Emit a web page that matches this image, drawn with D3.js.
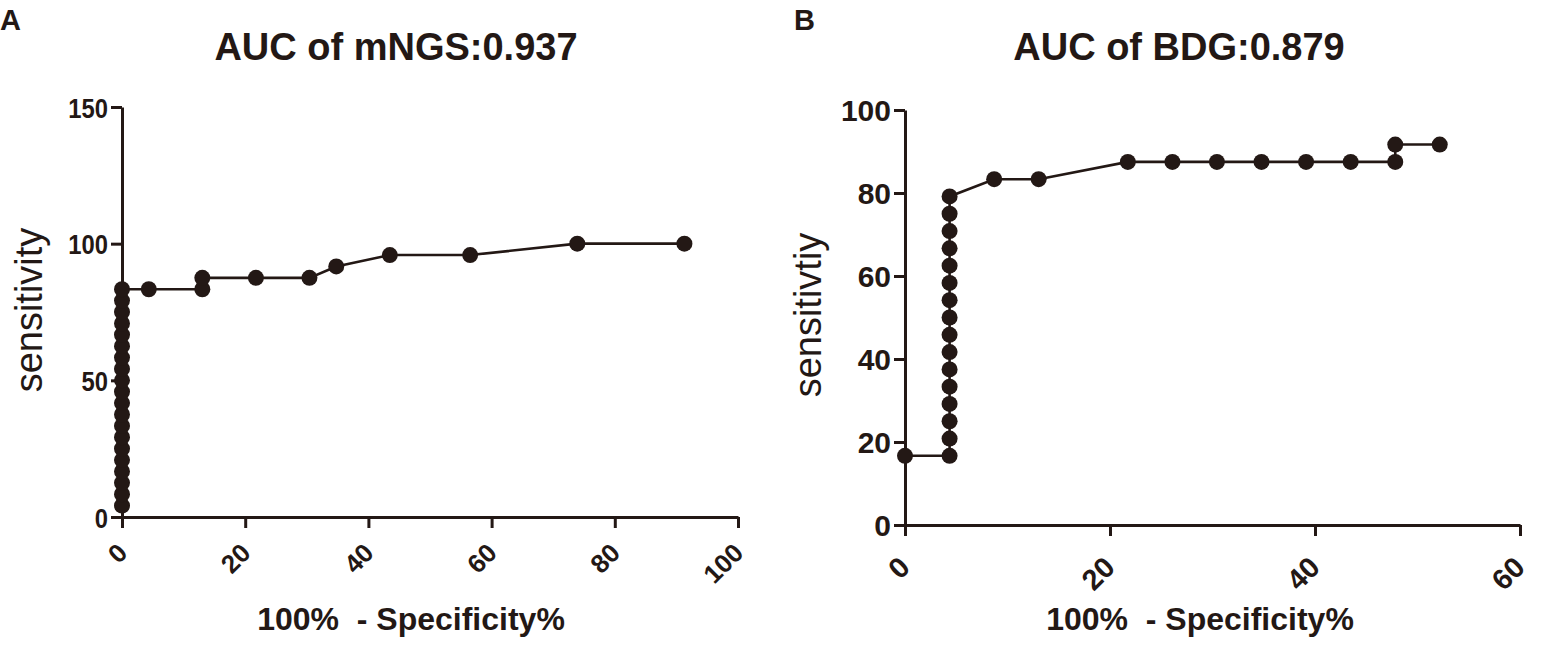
<!DOCTYPE html>
<html>
<head>
<meta charset="utf-8">
<script src="https://cdn.jsdelivr.net/npm/d3@7"></script>
<style>
  body { margin: 0; background: #fff; }
  text { font-family: "Liberation Sans", Arial, sans-serif; fill: #231815; }
</style>
</head>
<body>
<div id="chart"></div>
<script>
// ROC points, panel A (mNGS)
const mngsFpr = [0, 0, 0, 0, 0, 0, 0, 0, 0, 0, 0, 0, 0, 0, 0, 0, 0, 0, 0, 0,
  4.35, 13.04, 13.04, 21.74, 30.43, 34.78, 43.48, 56.52, 73.91, 91.30];
const mngsSens = [4.17, 8.33, 12.5, 16.67, 20.83, 25, 29.17, 33.33, 37.5, 41.67,
  45.83, 50, 54.17, 58.33, 62.5, 66.67, 70.83, 75, 79.17, 83.33,
  83.33, 83.33, 87.5, 87.5, 87.5, 91.67, 95.83, 95.83, 100, 100];

// ROC points, panel B (BDG)
const bdgFpr = [0, 4.35, 4.35, 4.35, 4.35, 4.35, 4.35, 4.35, 4.35, 4.35, 4.35,
  4.35, 4.35, 4.35, 4.35, 4.35, 4.35, 8.70, 13.04, 21.74, 26.09, 30.43, 34.78,
  39.13, 43.48, 47.83, 47.83, 52.17];
const bdgSens = [16.67, 16.67, 20.83, 25, 29.17, 33.33, 37.5, 41.67, 45.83, 50,
  54.17, 58.33, 62.5, 66.67, 70.83, 75, 79.17, 83.33, 83.33, 87.5, 87.5, 87.5,
  87.5, 87.5, 87.5, 87.5, 91.67, 91.67];

const mngsXTicks = [0, 20, 40, 60, 80, 100];
const mngsYTicks = [0, 50, 100, 150];
const bdgXTicks = [0, 20, 40, 60];
const bdgYTicks = [0, 20, 40, 60, 80, 100];

const ink = '#231815';

var svg = d3.select('#chart')
  .append('svg')
  .attr('width', 1543)
  .attr('height', 650)
  .style('background-color', '#FFFFFF');

function drawPanel(opts) {
  var xScale = d3.scaleLinear().domain(opts.xDomain).range(opts.xRange);
  var yScale = d3.scaleLinear().domain(opts.yDomain).range(opts.yRange);
  var x0 = opts.xRange[0], y0 = opts.yRange[0];

  var g = svg.append('g');

  // panel letter
  g.append('text')
    .attr('x', opts.letterX).attr('y', 30)
    .style('font-size', '29px').style('font-weight', 'bold')
    .text(opts.letter);

  // title
  g.append('text')
    .attr('x', opts.titleX).attr('y', 60)
    .attr('text-anchor', 'middle')
    .style('font-size', '38px').style('font-weight', 'bold')
    .text(opts.title);

  var yAxis = d3.axisLeft(yScale).tickValues(opts.yTicks).tickSize(11).tickSizeOuter(0).tickPadding(3);
  var xAxis = d3.axisBottom(xScale).tickValues(opts.xTicks).tickSize(11).tickSizeOuter(0);

  var ya = g.append('g')
    .attr('class', 'y axis')
    .attr('transform', 'translate(' + x0 + ',0)')
    .call(yAxis);

  var xa = g.append('g')
    .attr('class', 'x axis')
    .attr('transform', 'translate(0,' + y0 + ')')
    .call(xAxis);

  [ya, xa].forEach(function(a) {
    a.selectAll('path, line').attr('stroke', ink).attr('stroke-width', 3);
    a.selectAll('text')
      .style('font-weight', 'bold')
      .attr('fill', ink);
  });

  // y tick labels (panel A's are a bit narrower)
  ya.selectAll('text')
    .style('font-size', opts.yTickFont + 'px')
    .attr('x', 0)
    .attr('dy', '0.36em')
    .attr('transform', 'translate(-14,0) scale(' + opts.yTickSqueeze + ',1)');

  // rotated x tick labels
  xa.selectAll('text')
    .style('font-size', opts.xTickFont + 'px')
    .attr('text-anchor', 'end')
    .attr('dy', '0.35em')
    .attr('y', 0)
    .attr('transform', 'translate(' + opts.xTickShift[0] + ',' + opts.xTickShift[1] + ') rotate(-45)');

  // axis titles
  g.append('text')
    .attr('transform', 'translate(' + opts.yLabelX + ',' + opts.yLabelY + ') rotate(-90)')
    .attr('text-anchor', 'middle')
    .style('font-size', '38px')
    .text(opts.yLabel);

  g.append('text')
    .attr('x', opts.xLabelX).attr('y', 630)
    .attr('text-anchor', 'middle')
    .style('font-size', '32px').style('font-weight', 'bold')
    .style('white-space', 'pre')
    .text('100%  - Specificity%');

  var pts = opts.fpr.map(function(v, i) { return [v, opts.sens[i]]; });

  var line = d3.line()
    .x(function(d) { return xScale(d[0]); })
    .y(function(d) { return yScale(d[1]); });

  g.append('path')
    .datum(pts)
    .attr('d', line)
    .attr('fill', 'none')
    .attr('stroke', ink)
    .attr('stroke-width', 2.6);

  g.selectAll('circle.pt')
    .data(pts)
    .enter()
      .append('circle')
      .attr('class', 'pt')
      .attr('cx', function(d) { return xScale(d[0]); })
      .attr('cy', function(d) { return yScale(d[1]); })
      .attr('r', 8)
      .attr('fill', ink);
}

drawPanel({
  letter: 'A', letterX: 0,
  title: 'AUC of mNGS:0.937', titleX: 396,
  xDomain: [0, 100], xRange: [122, 738],
  yDomain: [0, 150], yRange: [517, 107],
  xTicks: mngsXTicks, yTicks: mngsYTicks,
  yTickFont: 28, yTickSqueeze: 0.85,
  xTickFont: 26, xTickShift: [0, 31],
  yLabel: 'sensitivity', yLabelX: 42, yLabelY: 310,
  xLabelX: 411,
  fpr: mngsFpr, sens: mngsSens
});

drawPanel({
  letter: 'B', letterX: 794,
  title: 'AUC of BDG:0.879', titleX: 1179,
  xDomain: [0, 60], xRange: [905, 1520],
  yDomain: [0, 100], yRange: [525, 110],
  xTicks: bdgXTicks, yTicks: bdgYTicks,
  yTickFont: 30, yTickSqueeze: 1,
  xTickFont: 29, xTickShift: [-1, 37],
  yLabel: 'sensitivtiy', yLabelX: 821, yLabelY: 315,
  xLabelX: 1200,
  fpr: bdgFpr, sens: bdgSens
});
</script>
</body>
</html>
